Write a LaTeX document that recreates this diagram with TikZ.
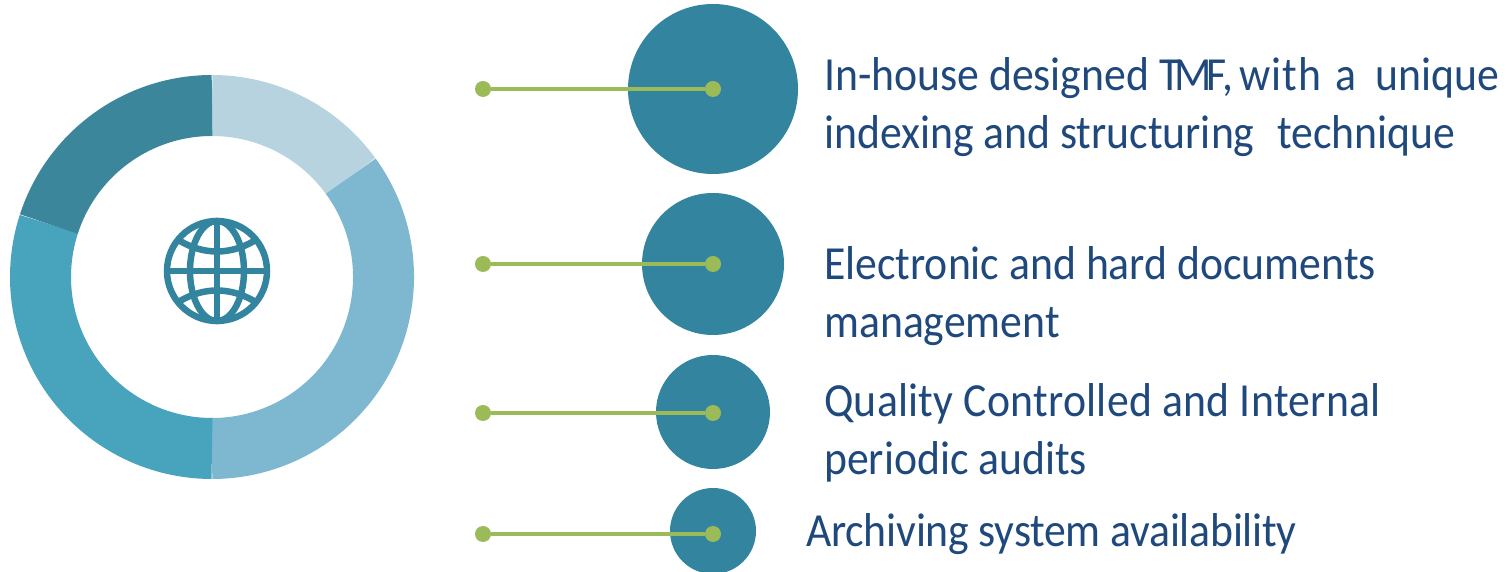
\documentclass[tikz,border=0pt]{standalone}
\usepackage{fontspec}
\setmainfont[FakeStretch=0.92]{Carlito}
\definecolor{bub}{HTML}{33849E}
\definecolor{grn}{HTML}{9BBB59}
\definecolor{txt}{HTML}{1F497D}
\definecolor{segA}{HTML}{B7D3E0}
\definecolor{segB}{HTML}{7DB8D0}
\definecolor{segC}{HTML}{48A3BC}
\definecolor{segD}{HTML}{3B869B}
\tikzset{
  bubble/.style={circle,fill=bub,draw=none,inner sep=0pt,minimum size=#1},
  dotg/.style={circle,fill=grn,draw=none,inner sep=0pt,minimum size=16pt},
  link/.style={draw=grn,line width=3.5pt},
  lbl/.style={anchor=west,text=txt,font=\fontsize{47.5}{58}\selectfont,align=left,inner sep=0pt},
  globe/.style={draw=bub,line width=6.5pt},
  seg/.style={line width=61pt}
}
\begin{document}
\begin{tikzpicture}[x=1pt,y=1pt]
\useasboundingbox (0,0) rectangle (1506,572);
% donut
\coordinate (dc) at (212,295);
\draw[seg,segA] (dc) ++(90:171.5) arc[start angle=90,end angle=36,radius=171.5];
\draw[seg,segB] (dc) ++(36:171.5) arc[start angle=36,end angle=-90,radius=171.5];
\draw[seg,segC] (dc) ++(-90:171.5) arc[start angle=-90,end angle=-198,radius=171.5];
\draw[seg,segD] (dc) ++(162:171.5) arc[start angle=162,end angle=90,radius=171.5];
% globe
\coordinate (gc) at (217,301);
\draw[globe] (gc) circle[radius=50];
\draw[globe] (gc) ellipse[x radius=27,y radius=50];
\draw[globe] (167,301) -- (267,301);
\draw[globe] (217,351) -- (217,251);
\draw[globe] (180,331) .. controls (204,317) and (230,317) .. (254,331);
\draw[globe] (180,271) .. controls (204,285) and (230,285) .. (254,271);
% bubbles
\node[bubble=170pt] (b1) at (713,483) {};
\node[bubble=142pt] (b2) at (713,308) {};
\node[bubble=114pt] (b3) at (713,160) {};
\node[bubble=86pt] (b4) at (713,41) {};
% connectors
\node[dotg] (l1) at (483,483) {};
\node[dotg] (r1) at (713,483) {};
\node[dotg] (l2) at (483,308) {};
\node[dotg] (r2) at (713,308) {};
\node[dotg] (l3) at (483,159) {};
\node[dotg] (r3) at (713,159) {};
\node[dotg] (l4) at (483,38) {};
\node[dotg] (r4) at (713,38) {};
\draw[link] (l1) -- (r1);
\draw[link] (l2) -- (r2);
\draw[link] (l3) -- (r3);
\draw[link] (l4) -- (r4);
% labels
\node[lbl] (t1) at (824,465) {In-house designed T\kern-5.5pt M\kern-5.5pt F,\kern-4pt\ w\kern1pt i\kern1pt t\kern1pt h\ \kern5pt a\ \kern8.5pt unique\\indexing and structuring\ \ \kern3pt technique};
\node[lbl] (t2) at (824,276) {Electronic and hard documents\\management};
\node[lbl] (t3) at (824,139) {\addfontfeature{LetterSpace=0.6}Quality Controlled and Internal\\periodic audits};
\node[lbl] (t4) at (806,38) {\addfontfeature{LetterSpace=-0.45}Archiving system availability};
\end{tikzpicture}
\end{document}
